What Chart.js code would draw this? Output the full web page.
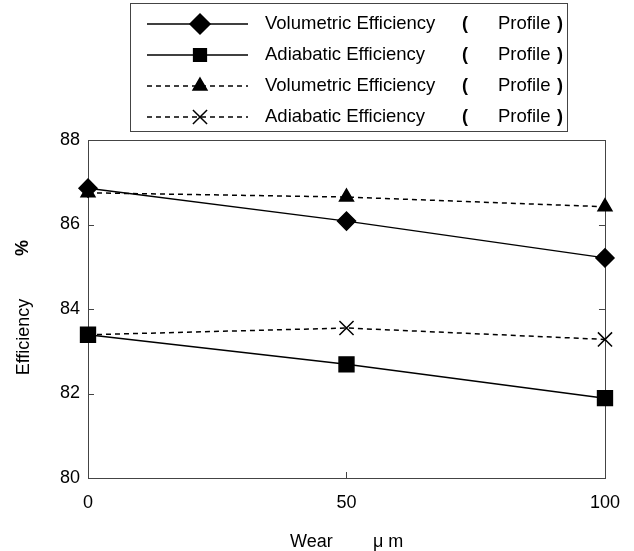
<!DOCTYPE html>
<html>
<head>
<meta charset="utf-8">
<script src="https://cdn.jsdelivr.net/npm/chart.js@4.4.1/dist/chart.umd.min.js"></script>
<style>
  html, body { margin: 0; padding: 0; background: #fff; }
  #wrap { width: 634px; height: 551px; }
</style>
</head>
<body>
<div id="wrap"><canvas id="c" width="634" height="551"></canvas></div>
<script>
// wear in micrometres
const wear = [0, 50, 100];
const volProfileA = [86.86, 86.08, 85.21];
const adiProfileA = [83.39, 82.69, 81.89];
const volProfileB = [86.75, 86.65, 86.42];
const adiProfileB = [83.39, 83.55, 83.28];
const seriesLabels = ['Volumetric Efficiency', 'Adiabatic Efficiency', 'Volumetric Efficiency', 'Adiabatic Efficiency'];
const xTicks = [0, 50, 100];
const yTicks = [80, 82, 84, 86, 88];

const FONT = '"Liberation Sans", Arial, sans-serif';
const INK = '#000';
const AXIS = '#444';

const toPoints = vals => vals.map((v, i) => ({ x: wear[i], y: v }));

const styles = [
    { pointStyle: 'rectRot', radius: 9, dash: [], legendRadius: 10 },
    { pointStyle: 'rect', radius: 10.5, dash: [], legendRadius: 9 },
    { pointStyle: 'triangle', radius: 8, dash: [5, 4], legendRadius: 8 },
    { pointStyle: 'crossRot', radius: 10, dash: [5, 4], legendRadius: 10 }
];

const series = [volProfileA, adiProfileA, volProfileB, adiProfileB];

const datasets = series.map((vals, i) => ({
    label: seriesLabels[i],
    data: toPoints(vals),
    borderColor: INK,
    backgroundColor: INK,
    borderWidth: 1.5,
    borderDash: styles[i].dash,
    pointStyle: styles[i].pointStyle,
    pointRadius: styles[i].radius,
    pointHoverRadius: styles[i].radius,
    pointBackgroundColor: INK,
    pointBorderColor: INK,
    pointBorderWidth: 1.5,
    tension: 0,
    fill: false,
    clip: false
}));

// box round plot, inner ticks, axis titles, legend
const decorations = {
    id: 'decorations',
    beforeDatasetsDraw(chart) {
        const ctx = chart.ctx;
        const a = chart.chartArea;
        const xs = chart.scales.x, ys = chart.scales.y;
        ctx.save();
        ctx.strokeStyle = AXIS;
        ctx.lineWidth = 1;
        ctx.strokeRect(Math.round(a.left) + 0.5, Math.round(a.top) + 0.5,
            Math.round(a.right - a.left), Math.round(a.bottom - a.top));

        ctx.beginPath();
        yTicks.slice(1, -1).forEach(v => {
            const y = Math.round(ys.getPixelForValue(v)) + 0.5;
            ctx.moveTo(a.left, y); ctx.lineTo(a.left + 6, y);
            ctx.moveTo(a.right, y); ctx.lineTo(a.right - 6, y);
        });
        xTicks.slice(1, -1).forEach(v => {
            const x = Math.round(xs.getPixelForValue(v)) + 0.5;
            ctx.moveTo(x, a.bottom); ctx.lineTo(x, a.bottom - 6);
        });
        ctx.stroke();
        ctx.restore();
    },
    afterDraw(chart) {
        const ctx = chart.ctx;
        ctx.save();

        // axis titles
        ctx.fillStyle = INK;
        ctx.font = '18px ' + FONT;
        ctx.textBaseline = 'middle';
        ctx.textAlign = 'left';
        ctx.fillText('Wear', 290, 542);
        ctx.fillText('μ m', 373, 542);

        ctx.save();
        ctx.translate(24, 337);
        ctx.rotate(-Math.PI / 2);
        ctx.textAlign = 'center';
        ctx.fillText('Efficiency', 0, 0);
        ctx.restore();
        ctx.save();
        ctx.translate(23, 248);
        ctx.rotate(-Math.PI / 2);
        ctx.textAlign = 'center';
        ctx.font = 'bold 18px ' + FONT;
        ctx.fillText('%', 0, 0);
        ctx.restore();

        // legend
        const box = { x: 130, y: 3, w: 437, h: 128 };
        ctx.fillStyle = '#fff';
        ctx.fillRect(box.x, box.y, box.w, box.h);
        ctx.strokeStyle = AXIS;
        ctx.lineWidth = 1;
        ctx.strokeRect(box.x + 0.5, box.y + 0.5, box.w, box.h);
        const rows = [24, 55, 86, 117];
        chart.data.datasets.forEach((ds, i) => {
            const y = rows[i];
            ctx.save();
            ctx.strokeStyle = INK;
            ctx.lineWidth = 1.5;
            ctx.setLineDash(ds.borderDash);
            ctx.beginPath();
            ctx.moveTo(147, y); ctx.lineTo(248, y);
            ctx.stroke();
            ctx.setLineDash([]);
            ctx.fillStyle = INK;
            Chart.helpers.drawPoint(ctx, {
                pointStyle: ds.pointStyle,
                radius: styles[i].legendRadius,
                rotation: 0,
                borderWidth: 1.5
            }, 200, y);
            ctx.restore();

            ctx.fillStyle = INK;
            ctx.textBaseline = 'middle';
            ctx.textAlign = 'left';
            ctx.font = '18.5px ' + FONT;
            ctx.fillText(ds.label, 265, y);
            ctx.fillText('Profile', 498, y);
            ctx.font = 'bold 18px ' + FONT;
            ctx.fillText('(', 462, y);
            ctx.textAlign = 'right';
            ctx.fillText(')', 563, y);
        });
        ctx.restore();
    }
};

new Chart(document.getElementById('c'), {
    type: 'line',
    data: { datasets },
    options: {
        responsive: false,
        animation: false,
        devicePixelRatio: 1,
        layout: { padding: { top: 140, right: 29, left: 0, bottom: 0 } },
        plugins: {
            legend: { display: false },
            tooltip: { enabled: false }
        },
        scales: {
            x: {
                type: 'linear',
                min: 0,
                max: 100,
                afterBuildTicks: s => { s.ticks = xTicks.map(v => ({ value: v })); },
                afterFit: s => { s.height = 73; },
                grid: { drawOnChartArea: false, drawTicks: false },
                border: { display: false },
                ticks: { color: INK, font: { family: FONT, size: 18 }, padding: 14, maxRotation: 0 }
            },
            y: {
                min: 80,
                max: 88,
                afterBuildTicks: s => { s.ticks = yTicks.map(v => ({ value: v })); },
                afterFit: s => { s.width = 88; },
                grid: { drawOnChartArea: false, drawTicks: false },
                border: { display: false },
                ticks: { color: INK, font: { family: FONT, size: 18 }, padding: 8 }
            }
        }
    },
    plugins: [decorations]
});
</script>
</body>
</html>
